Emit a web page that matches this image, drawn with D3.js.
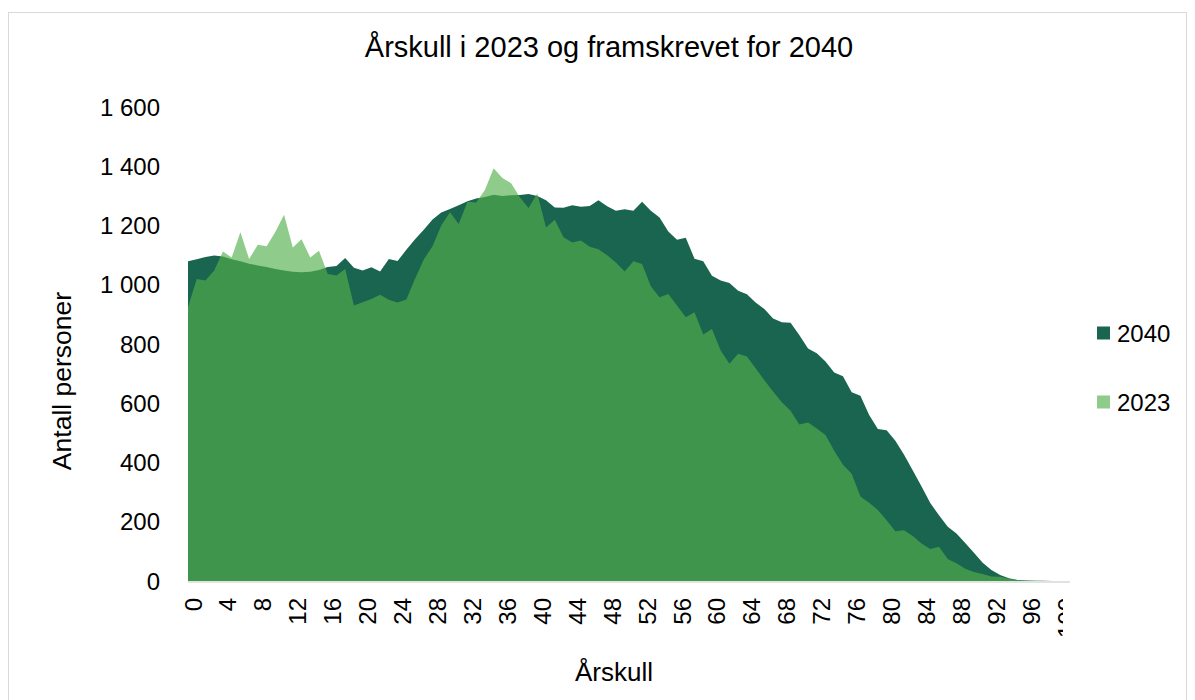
<!DOCTYPE html>
<html>
<head>
<meta charset="utf-8">
<script src="https://cdn.jsdelivr.net/npm/d3@7"></script>
<style>
  html, body { margin: 0; padding: 0; background: #ffffff; }
  svg { display: block; font-family: "Liberation Sans", Arial, sans-serif; }
</style>
</head>
<body>
<svg id="chart" width="1195" height="700"></svg>
<script>
// ---- data ----
const ages = [0,1,2,3,4,5,6,7,8,9,10,11,12,13,14,15,16,17,18,19,20,21,22,23,24,25,26,27,28,29,30,31,32,33,34,35,36,37,38,39,40,41,42,43,44,45,46,47,48,49,50,51,52,53,54,55,56,57,58,59,60,61,62,63,64,65,66,67,68,69,70,71,72,73,74,75,76,77,78,79,80,81,82,83,84,85,86,87,88,89,90,91,92,93,94,95,96,97,98,99,100,101];

const pop2040 = [1079,1086,1094,1099,1095,1086,1079,1071,1065,1060,
  1053,1048,1044,1042,1044,1050,1060,1063,1090,1057,
  1048,1059,1045,1087,1080,1118,1154,1186,1220,1244,
  1256,1268,1282,1291,1296,1304,1300,1302,1303,1306,
  1300,1285,1261,1260,1268,1263,1266,1285,1265,1250,
  1255,1250,1280,1250,1227,1180,1152,1159,1088,1079,
  1030,1014,1006,980,968,940,918,886,873,872,
  830,785,769,741,704,691,637,625,560,513,
  509,473,426,373,319,263,222,183,160,128,
  95,62,37,20,9,3,2,1,1,0,
  0,0];

const pop2023 = [924,1019,1014,1048,1112,1092,1177,1087,1135,1130,
  1178,1236,1126,1154,1092,1115,1036,1031,1053,930,
  941,952,966,949,940,950,1020,1085,1130,1200,
  1245,1205,1280,1278,1320,1393,1360,1343,1295,1259,
  1308,1193,1219,1160,1143,1149,1128,1120,1100,1075,
  1045,1079,1070,995,958,969,930,890,907,832,
  851,778,733,767,758,718,678,640,603,575,
  528,535,515,493,440,392,362,285,264,240,
  205,168,171,152,127,108,116,74,60,41,
  30,24,15,14,8,3,2,1,0,0,
  0,0];

const xTickValues = [0,4,8,12,16,20,24,28,32,36,40,44,48,52,56,60,64,68,72,76,80,84,88,92,96,100];
const yTickValues = [0,200,400,600,800,1000,1200,1400,1600];
const yTickLabels = ["0","200","400","600","800","1 000","1 200","1 400","1 600"];
const seriesNames = ["2040","2023"];

const titleText = "Årskull i 2023 og framskrevet for 2040";
const xTitle = "Årskull";
const yTitle = "Antall personer";

// ---- styles ----
const colDark = "#1a654f";
const colLight = "rgb(83,175,75)";
const lightOpacity = 0.65;

// ---- layout ----
const svg = d3.select("#chart");
const plotLeft = 188, plotRight = 1070, plotBottom = 581, plotTop = 107;

const x = d3.scalePoint().domain(ages).range([plotLeft, plotRight]);
const y = d3.scaleLinear().domain([0, 1600]).range([plotBottom, plotTop]);

// border
svg.append("rect")
  .attr("x", 8.5).attr("y", 12.5)
  .attr("width", 1178).attr("height", 720)
  .attr("fill", "#fff").attr("stroke", "#d9d9d9").attr("stroke-width", 1);

// title
svg.append("text")
  .attr("x", 609).attr("y", 57)
  .attr("text-anchor", "middle")
  .attr("font-size", 29).attr("fill", "#000")
  .text(titleText);

// areas
const area = d3.area()
  .x((d, i) => x(ages[i]))
  .y0(y(0))
  .y1(d => y(d));

svg.append("path")
  .datum(pop2040)
  .attr("d", area)
  .attr("fill", colDark);

svg.append("path")
  .datum(pop2023)
  .attr("d", area)
  .attr("fill", colLight)
  .attr("fill-opacity", lightOpacity);

// x axis line
svg.append("line")
  .attr("x1", plotLeft).attr("x2", plotRight)
  .attr("y1", plotBottom + 1).attr("y2", plotBottom + 1)
  .attr("stroke", "#d9d9d9").attr("stroke-width", 1.5);

// x tick labels (clipped at right like reference)
svg.append("clipPath").attr("id", "xclip")
  .append("rect").attr("x", 0).attr("y", 585).attr("width", 1063).attr("height", 60);

const xg = svg.append("g").attr("clip-path", "url(#xclip)");
xg.selectAll("text")
  .data(xTickValues)
  .join("text")
  .attr("transform", d => `translate(${x(d) + 5},598) rotate(-90)`)
  .attr("text-anchor", "end")
  .attr("dominant-baseline", "central")
  .attr("font-size", 24)
  .attr("fill", "#000")
  .text(d => String(d));

// y tick labels
svg.append("g").selectAll("text")
  .data(yTickValues)
  .join("text")
  .attr("x", 160)
  .attr("y", d => y(d))
  .attr("text-anchor", "end")
  .attr("dominant-baseline", "central")
  .attr("font-size", 24)
  .attr("fill", "#000")
  .text((d, i) => yTickLabels[i]);

// axis titles
svg.append("text")
  .attr("transform", "translate(71,381) rotate(-90)")
  .attr("text-anchor", "middle")
  .attr("font-size", 26.5).attr("fill", "#000")
  .text(yTitle);

svg.append("text")
  .attr("x", 614).attr("y", 681)
  .attr("text-anchor", "middle")
  .attr("font-size", 26).attr("fill", "#000")
  .text(xTitle);

// legend
const legend = svg.append("g");
const legendY = [333, 402];
seriesNames.forEach((name, i) => {
  const g = legend.append("g");
  g.append("rect")
    .attr("x", 1097).attr("y", legendY[i] - 6.5)
    .attr("width", 13).attr("height", 13)
    .attr("fill", i === 0 ? colDark : colLight)
    .attr("fill-opacity", i === 0 ? 1 : lightOpacity);
  g.append("text")
    .attr("x", 1117).attr("y", legendY[i])
    .attr("dominant-baseline", "central")
    .attr("font-size", 24).attr("fill", "#000")
    .text(name);
});
</script>
</body>
</html>
